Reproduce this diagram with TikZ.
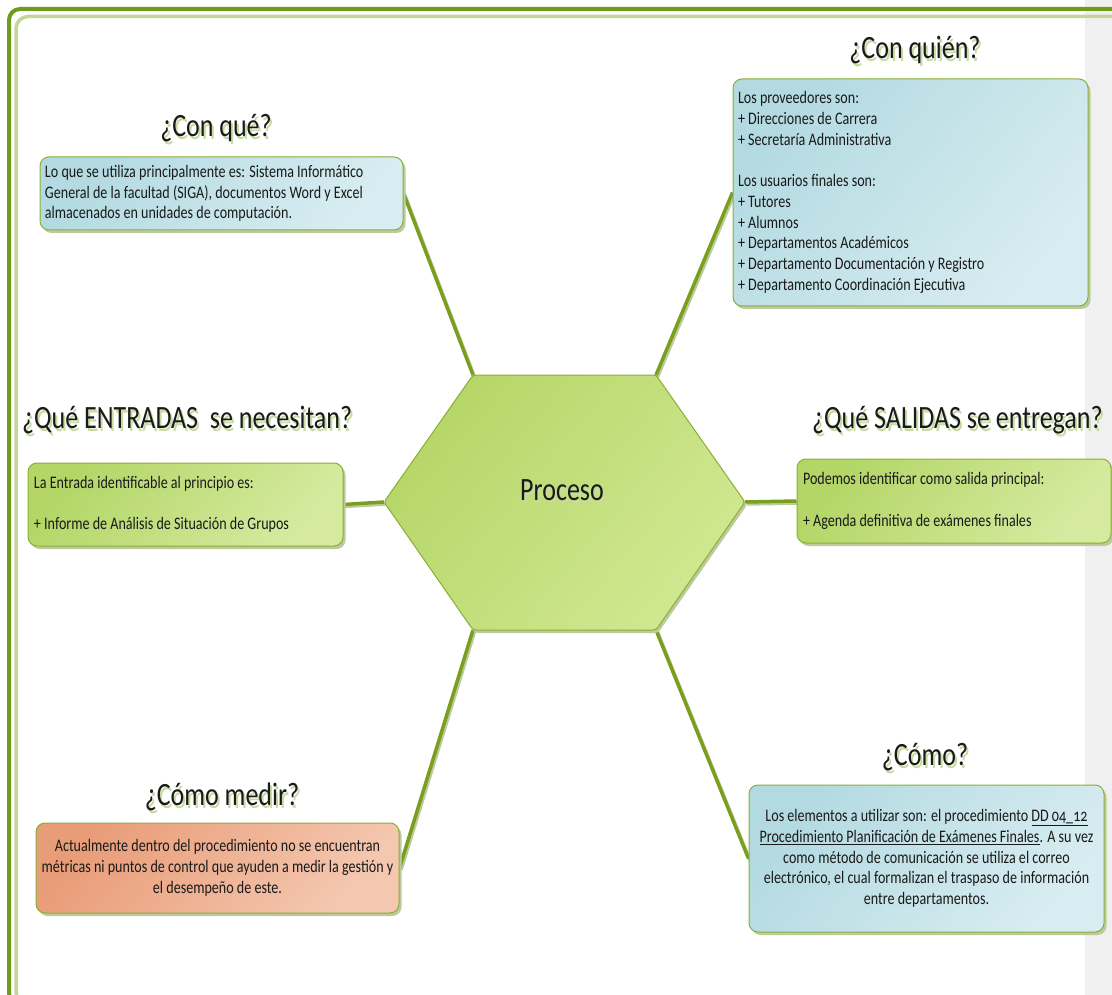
\documentclass[tikz,border=0pt]{standalone}
\usepackage{fontspec}
\setmainfont{Carlito}[FakeStretch=0.8]
\usetikzlibrary{shadows}

\definecolor{ink}{HTML}{1A1A1A}
\definecolor{frameGreen}{HTML}{6F9A1C}
\definecolor{frameLight}{HTML}{C2D699}
\definecolor{borderGreen}{HTML}{8AAF36}
\definecolor{connGreen}{HTML}{7A9E1E}
\definecolor{shadowGreen}{HTML}{BCCB9E}
\definecolor{titleShadow}{HTML}{C9DBA3}
\definecolor{stripGray}{HTML}{F0F0F0}
\definecolor{blueA}{HTML}{B3DAE1}
\definecolor{blueB}{HTML}{D8EDF1}
\definecolor{greenA}{HTML}{B3D667}
\definecolor{greenB}{HTML}{D5EA9F}
\definecolor{hexA}{HTML}{B6D668}
\definecolor{hexB}{HTML}{D0E891}
\definecolor{orangeA}{HTML}{E99C78}
\definecolor{orangeB}{HTML}{F4C8B0}

\pgfdeclarelayer{bg}
\pgfsetlayers{bg,main}

\begin{document}
\begin{tikzpicture}[x=1pt,y=-1pt,
  box/.style={draw=borderGreen, line width=1pt, rounded corners=9pt,
    inner xsep=5pt, inner ysep=0pt, text=ink,
    font=\fontsize{17.6}{20.7}\selectfont,
    drop shadow={shadow xshift=2.5pt, shadow yshift=-3pt, fill=shadowGreen, opacity=1}},
  bluebox/.style={box, left color=blueA, right color=blueB, shading angle=50},
  greenbox/.style={box, left color=greenA, right color=greenB, shading angle=50},
  orangebox/.style={box, left color=orangeA, right color=orangeB, shading angle=50},
  title/.style={inner sep=0pt, text=ink, font=\fontsize{32.5}{36}\selectfont},
  titleshade/.style={title, text=titleShadow},
  conn/.style={draw=connGreen, line width=3.5pt,
    preaction={draw=shadowGreen, line width=3.5pt, transform canvas={shift={(1.5pt,-2pt)}}}},
]
\useasboundingbox (0,0) rectangle (1112,995);

% right margin strip
\fill[stripGray] (1085,0) rectangle (1112,995);

% page frame
\begin{scope}
\clip (0,0) rectangle (1112,995);
\draw[frameLight, line width=3.5pt, rounded corners=12pt] (16,16.5) rectangle (1160,1004);
\draw[frameGreen, line width=4pt, rounded corners=11pt] (9,9) rectangle (1160,1004);
\end{scope}

% central hexagon
\coordinate (hTL) at (473,375);
\coordinate (hTR) at (656,375);
\coordinate (hR)  at (745,502);
\coordinate (hBR) at (656,630);
\coordinate (hBL) at (473,630);
\coordinate (hL)  at (384,502);
\path[draw=borderGreen, line width=1pt, left color=hexA, right color=hexB, shading angle=50,
      rounded corners=3pt,
      drop shadow={shadow xshift=2pt, shadow yshift=-3pt, fill=shadowGreen, opacity=1}]
  (hTL) -- (hTR) -- (hR) -- (hBR) -- (hBL) -- (hL) -- cycle;
\node[titleshade] (procS) at (564,493) {Proceso};
\node[title] (proc) at (562,490) {Proceso};

% titles
\node[titleshade] (t1s) at (218,131) {¿Con qué?};
\node[title] (t1) at (216,128) {¿Con qué?};
\node[titleshade] (t2s) at (917,53) {¿Con quién?};
\node[title] (t2) at (915,50) {¿Con quién?};
\node[titleshade, anchor=west] (t3s) at (24,423) {¿Qué ENTRADAS\ \ se necesitan?};
\node[title, anchor=west] (t3) at (22,420) {¿Qué ENTRADAS\ \ se necesitan?};
\node[titleshade, anchor=west] (t4s) at (814,423) {¿Qué SALIDAS se entregan?};
\node[title, anchor=west] (t4) at (812,420) {¿Qué SALIDAS se entregan?};
\node[titleshade] (t5s) at (224,800) {¿Cómo medir?};
\node[title] (t5) at (222,797) {¿Cómo medir?};
\node[titleshade] (t6s) at (927,760) {¿Cómo?};
\node[title] (t6) at (925,757) {¿Cómo?};

% boxes
\node[bluebox, text width=353pt, minimum height=73pt, align=flush left] (b1) at (221.5,193.5)
  {Lo que se utiliza principalmente es: Sistema Informático\\
   General de la facultad (SIGA), documentos Word y Excel\\
   almacenados en unidades de computación.};

\node[bluebox, text width=345pt, minimum height=227pt, align=flush left] (b2) at (910.5,192.5)
  {Los proveedores son:\\
   + Direcciones de Carrera\\
   + Secretaría Administrativa\\[20.7pt]
   Los usuarios finales son:\\
   + Tutores\\
   + Alumnos\\
   + Departamentos Académicos\\
   + Departamento Documentación y Registro\\
   + Departamento Coordinación Ejecutiva};

\node[greenbox, text width=303pt, inner xsep=6pt, minimum height=83pt, align=flush left] (b3) at (185.5,504.5)
  {La Entrada identificable al principio es:\\[20.7pt]
   + Informe de Análisis de Situación de Grupos};

\node[greenbox, text width=302pt, inner xsep=6pt, minimum height=84pt, align=flush left] (b4) at (954,501)
  {Podemos identificar como salida principal:\\[20.7pt]
   + Agenda definitiva de exámenes finales};

\node[orangebox, minimum width=363pt, minimum height=90pt, align=center] (b5) at (217.5,868)
  {Actualmente dentro del procedimiento no se encuentran\\
   métricas ni puntos de control que ayuden a medir la gestión y\\
   el desempeño de este.};

\node[bluebox, minimum width=355pt, minimum height=147pt, align=center] (b6) at (926.5,858.5)
  {Los elementos a utilizar son: el procedimiento \underline{DD {\addfontfeatures{Numbers=OldStyle}04\_12}}\\
   \underline{Procedimiento Planificación de Exámenes Finales}. A su vez\\
   como método de comunicación se utiliza el correo\\
   electrónico, el cual formalizan el traspaso de información\\
   entre departamentos.};

% connectors from the process to each box
\begin{pgfonlayer}{bg}
\draw[conn] (b1.east) -- (hTL);
\draw[conn] (b2.west) -- (hTR);
\draw[conn] (b3.east) -- (hL);
\draw[conn] (hR) -- (b4.west);
\draw[conn] (hBL) -- (b5.east);
\draw[conn] (hBR) -- (b6.west);
\end{pgfonlayer}
\end{tikzpicture}
\end{document}
